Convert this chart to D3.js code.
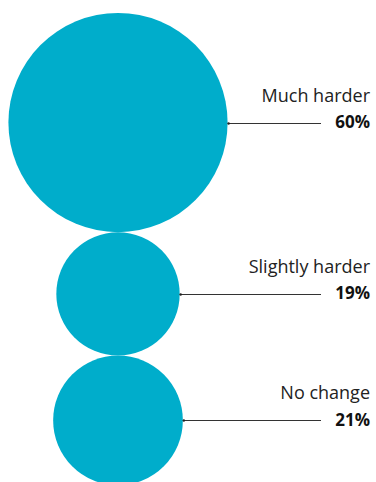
<!DOCTYPE html>
<html>
<head>
<meta charset="utf-8">
<script src="https://cdn.jsdelivr.net/npm/d3@7"></script>
<style>
  html, body { margin: 0; padding: 0; background: #fff; }
  svg { display: block; }
  .label { font-family: "Open Sans", "Noto Sans", sans-serif; font-weight: 400; fill: #222; }
  .value { font-family: "Open Sans", "Noto Sans", sans-serif; font-weight: 700; fill: #111; }
</style>
</head>
<body>
<svg id="chart" width="376" height="482"></svg>
<script>
// Share of respondents by how much harder things have become
const categories = ["Much harder", "Slightly harder", "No change"];
const values = [60, 19, 21];

const width = 376, height = 482;
const cx = 118;        // shared x for the circle column
const topY = 13;       // top edge of the first circle
const leaderEnd = 321; // where leader lines stop before the labels
const textRight = 370;

const svg = d3.select("#chart");

// Circle area proportional to value
const r = d3.scaleSqrt().domain([0, 60]).range([0, 109.6]);

// Stack circles so each touches the next
const nodes = [];
let y = topY;
categories.forEach((c, i) => {
  const rad = r(values[i]);
  nodes.push({ cat: c, value: values[i], r: rad, cy: y + rad });
  y += 2 * rad;
});

svg.selectAll("circle.bubble")
  .data(nodes)
  .join("circle")
  .attr("class", "bubble")
  .attr("cx", cx)
  .attr("cy", d => d.cy)
  .attr("r", d => d.r)
  .attr("fill", "#00adcb");

const g = svg.selectAll("g.ann")
  .data(nodes)
  .join("g")
  .attr("class", "ann");

g.append("line")
  .attr("x1", d => cx + d.r)
  .attr("x2", leaderEnd)
  .attr("y1", d => Math.round(d.cy) + 0.5)
  .attr("y2", d => Math.round(d.cy) + 0.5)
  .attr("stroke", "#333")
  .attr("stroke-width", 1);

g.append("circle")
  .attr("cx", d => cx + d.r + 1)
  .attr("cy", d => Math.round(d.cy) + 0.5)
  .attr("r", 1.2)
  .attr("fill", "#222");

g.append("text")
  .attr("class", "label")
  .attr("x", textRight)
  .attr("y", d => d.cy - 21)
  .attr("text-anchor", "end")
  .attr("font-size", 18)
  .text(d => d.cat);

g.append("text")
  .attr("class", "value")
  .attr("x", textRight)
  .attr("y", d => d.cy + 5.5)
  .attr("text-anchor", "end")
  .attr("font-size", 17)
  .text(d => d.value + "%");
</script>
</body>
</html>
